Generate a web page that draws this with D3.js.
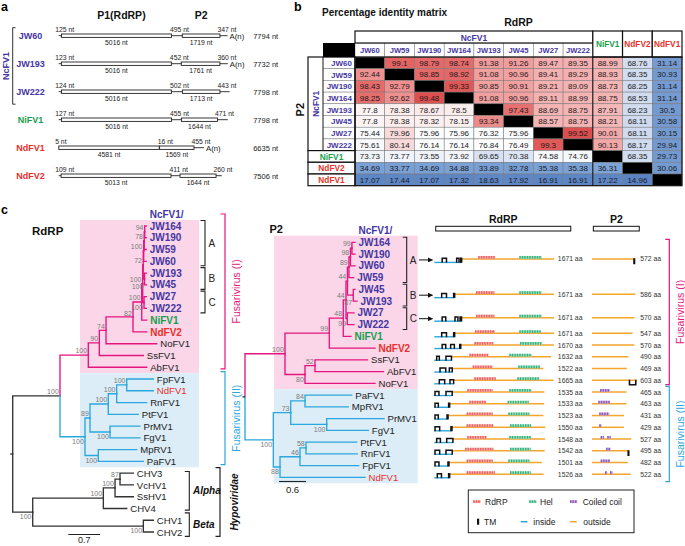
<!DOCTYPE html>
<html><head><meta charset="utf-8">
<script src="https://cdn.jsdelivr.net/npm/d3@7"></script>
<style>
body{margin:0;background:#fff;}
svg{font-family:"Liberation Sans",Arial,Helvetica,sans-serif;}
</style></head><body>
<svg id="fig" width="685" height="546"></svg>
<script>
// ================= DATA =================
const PURPLE="#4536a3", GREEN="#179f4c", RED="#e8302c", PINK="#e5157f", BLUE="#2aa7dc", ORANGE="#f5a52a";

// ---- panel a : genome organisation ----
const genomeNames = ["JW60","JW193","JW222","NiFV1","NdFV1","NdFV2"];
const utr5   = [125,123,124,127,5,109];
const orf1   = [5016,5016,5016,5016,4581,5013];
const igr    = [495,452,502,455,16,411];
const orf2   = [1719,1761,1713,1644,1569,1644];
const utr3   = [347,360,443,471,455,260];
const genomeTotal = [7794,7732,7798,7798,6635,7506];
const polyA  = [true,true,false,false,true,false];

// ---- panel b : percentage identity matrix (rows = P2, columns = RdRP) ----
const matrixNames = ["JW60","JW59","JW190","JW164","JW193","JW45","JW27","JW222","NiFV1","NdFV2","NdFV1"];
const identity = [
 [null,99.1,98.79,98.74,91.38,91.26,89.47,89.35,88.99,68.76,31.14],
 [92.44,null,98.85,98.92,91.08,90.96,89.41,89.29,88.93,68.35,30.93],
 [98.43,92.79,null,99.33,90.85,90.91,89.21,89.09,88.73,68.25,31.14],
 [98.25,92.62,99.48,null,91.08,90.96,89.11,88.99,88.75,68.53,31.14],
 [77.8,78.38,78.67,78.5,null,97.43,88.69,88.75,87.91,68.23,30.5],
 [77.8,78.38,78.32,78.15,93.34,null,88.57,88.75,88.21,68.11,30.58],
 [75.44,79.96,75.96,75.96,76.32,75.96,null,99.52,90.01,68.11,30.15],
 [75.61,80.14,76.14,76.14,76.84,76.49,99.3,null,90.13,68.17,29.94],
 [73.73,73.77,73.55,73.92,69.65,70.38,74.58,74.76,null,68.35,29.73],
 [34.69,33.77,34.69,34.88,33.89,32.78,35.38,35.38,36.31,null,30.06],
 [17.07,17.44,17.07,17.32,18.63,17.92,16.91,16.91,17.22,14.96,null]
];

// ---- panel c : phylogenies (Newick, support values as node labels) ----
const rdrpTree = `(
 (
  (
   (
    (
     (
      (
       (
        (
         (
          (
           (JW164:0.033,JW190:0.033)94:0.011,
           JW59:0.044
          )78:0.011,
          JW60:0.055
         )100:0.011,
         (JW193:0.044,JW45:0.044)100:0.029
        )72:0.011,
        (JW27:0.051,JW222:0.051)100:0.029
       )100:0.022,
       NiFV1:0.110
      )100:0.192,
      NdFV2:0.302
     )82:0.596,
     NoFV1:1.119
    )74:0.148,
    SsFV1:0.971
   )90:0.243,
   AbFV1:1.289
  )100:0.625,
  (
   (
    (
     (
      (FpFV1:0.587,NdFV1:0.587)100:0.221,
      RnFV1:0.662
     )100:0.185,
     PtFV1:0.662
    )100:0.404,
    (PrMV1:0.662,FgV1:0.662)100:0.442
   )89:0.110,
   (MpRV1:0.848,PaFV1:0.993)100:0.294
  )100:0.552
 )100:1.044,
 (
  (
   (
    (CHV3:0.294,VcHV1:0.294)87:0.110,
    SsHV1:0.404
   )100:0.258,
   CHV4:0.517
  )100:1.559,
  (CHV1:0.221,CHV2:0.221)100:2.442
 )100:0.442
);`;

const p2Tree = `(
 (
  (
   (
    (
     (
      (
       (
        (JW164:0.067,JW190:0.067)99:0.033,
        JW60:0.100
       )98:0.033,
       JW59:0.104
      )89:0.033,
      (JW45:0.038,JW193:0.082)87:0.129
     )44:0.033,
     (JW27:0.149,JW222:0.149)99:0.029
    )44:0.060,
    NiFV1:0.171
   )48:0.311,
   NdFV2:1.016
  )99:0.984,
  (
   (SsFV1:1.167,AbFV1:1.522)52:0.222,
   NoFV1:1.556
  )80:0.444
 )100:0.889,
 (
  (
   (PaFV1:1.038,MpRV1:0.962)84:0.318,
   (PrMV1:1.273,FgV1:0.924)100:0.800
  )73:0.387,
  (
   (
    (PtFV1:1.127,RnFV1:1.140)58:0.133,
    FpFV1:1.304
   )46:0.444,
   NdFV1:1.889
  )88:0.149
 )100:0.629
);`;

const fusI  = ["JW164","JW190","JW59","JW60","JW193","JW45","JW27","JW222","NiFV1","NdFV2","NoFV1","SsFV1","AbFV1"];
const fusII = ["FpFV1","NdFV1","RnFV1","PtFV1","PrMV1","FgV1","MpRV1","PaFV1"];
const rdrpGroups = {A:["JW164","JW60"],B:["JW193","JW45"],C:["JW27","JW222"]};
const p2Groups   = {A:["JW164","JW59"],B:["JW45","JW193"],C:["JW27","JW222"]};

// ---- panel c : domain architecture (aa) ----
const domainRows = ["A","B","C","NiFV1","NdFV2","SsFV1","AbFV1","NoFV1","PaFV1","MpRV1","PrMV1","FgV1","PtFV1","RnFV1","FpFV1","NdFV1"];
const rdrpLen = [1671,1671,1671,1671,1670,1632,1522,1665,1535,1533,1523,1550,1548,1542,1501,1526];
const p2Len   = [572,586,570,547,570,490,469,603,465,463,431,429,527,495,482,522];
const rdrpDomain = [[615,847],[582,838],[582,838],[568,847],[559,824],[489,754],[536,815],[559,857],[461,815],[489,722],[452,815],[452,824],[461,731],[429,824],[452,815],[452,847]];
const helDomain  = [[1187,1499],[1187,1499],[1187,1499],[1187,1485],[1196,1499],[1047,1359],[1173,1476],[1159,1466],[1047,1359],[1024,1317],[1034,1327],[1057,1350],[1047,1350],[1057,1345],[1034,1327],[1057,1345]];
const rdrpTM = [
 [[110,170],[312,345],[368,380]],
 [[103,170],[270,280]],
 [[110,160],[289,330],[360,380]],
 [[103,170],[270,280]],
 [[110,160],[228,280],[355,365]],
 [[33,70],[163,240]],
 [[80,160],[210,250]],
 [[70,145],[219,270]],
 [[10,65],[163,250]],
 [[10,56],[200,210]],
 [[10,56],[178,188]],
 [[10,75],[233,243]],
 [[33,85],[173,260]],
 [[10,75],[163,250]],
 [[10,65],[191,201]],
 [[42,100],[200,210]]
];
const p2TM = [[[566,572]],[],[],[],[],[],[],[[505,590]],[],[],[],[],[],[[488,495]],[],[]];
const coiledCoil = [[],[],[],[],[],[],[],[],[[108,243]],[[85,243]],[[98,233]],[[98,131]],[[117,162],[206,252]],[[189,252]],[[117,243]],[[175,206],[243,279]]];

// ================= HELPERS =================
const svg = d3.select("#fig");
const defs = svg.append("defs");
defs.append("marker").attr("id","arr").attr("viewBox","0 0 10 10").attr("refX",9).attr("refY",5)
  .attr("markerWidth",5).attr("markerHeight",5).attr("orient","auto")
  .append("path").attr("d","M0,0L10,5L0,10z").attr("fill","#111");

function nameColor(n){ if(/^JW/.test(n)) return PURPLE; if(n==="NiFV1") return GREEN; if(/^NdFV/.test(n)) return RED; return "#222"; }
function txt(g,x,y,s,o={}){
  const t=g.append("text").attr("x",x).attr("y",y).text(s)
    .attr("font-size",o.size||8).attr("fill",o.fill||"#222")
    .attr("font-weight",o.weight||"normal").attr("text-anchor",o.anchor||"start");
  if(o.style) t.attr("font-style",o.style);
  return t;
}
function vtxt(g,x,y,s,o={}){
  return g.append("text").attr("transform",`translate(${x},${y}) rotate(-90)`).text(s)
    .attr("font-size",o.size||10).attr("fill",o.fill||"#222").attr("font-weight",o.weight||"normal")
    .attr("font-style",o.style||"normal").attr("text-anchor","middle");
}
function bracket(g,x,y1,y2,color,tick=4.5,w=1.2){
  g.append("path").attr("d",`M${x-tick},${y1}H${x}V${y2}H${x-tick}`).attr("fill","none")
   .attr("stroke",color).attr("stroke-width",w);
}
function parseNewick(s){
  const tokens=s.replace(/\s+/g,"").split(/(;|\(|\)|,|:)/).filter(t=>t!=="");
  const anc=[]; let tree={};
  for(let i=0;i<tokens.length;i++){
    const t=tokens[i];
    if(t==="("){const sub={};tree.children=[sub];anc.push(tree);tree=sub;}
    else if(t===","){const sub={};anc[anc.length-1].children.push(sub);tree=sub;}
    else if(t===")"){tree=anc.pop();}
    else if(t===":"||t===";"){}
    else{const p=tokens[i-1]; if(p===":") tree.length=parseFloat(t); else tree.name=t;}
  }
  return tree;
}
function layoutTree(nw,x0,k,y0,step){
  const root=d3.hierarchy(parseNewick(nw));
  root.eachBefore(d=>{d.len=d.parent?d.parent.len+(d.data.length||0):0; d.x=x0+d.len*k;});
  root.leaves().forEach((l,i)=>l.y=y0+i*step);
  root.eachAfter(d=>{if(d.children) d.y=(d.children[0].y+d.children[d.children.length-1].y)/2;});
  return root;
}
function cladeColor(d){
  const ls=d.leaves().map(l=>l.data.name);
  if(ls.every(n=>fusI.includes(n))) return PINK;
  if(ls.every(n=>fusII.includes(n))) return BLUE;
  return "#333";
}
function drawTree(g,root){
  root.descendants().filter(d=>d.parent).forEach(d=>{
    g.append("path").attr("d",`M${d.parent.x},${d.parent.y}V${d.y}H${d.x}`)
     .attr("fill","none").attr("stroke",cladeColor(d)).attr("stroke-width",1.35).attr("stroke-linecap","square");
  });
  g.append("path").attr("d",`M${root.x-2.5},${root.y}H${root.x}`).attr("stroke","#333").attr("stroke-width",1.35);
  root.leaves().forEach(l=>{
    const n=l.data.name;
    const bold=/^JW/.test(n)||n==="NiFV1"||n==="NdFV2";
    txt(g,l.x+3.5,l.y+3.6,n,{size:bold?10:9.6,fill:nameColor(n),weight:bold?"bold":"normal"});
  });
  const labels=root.descendants().filter(d=>d.children&&d.parent&&d.data.name).map(d=>{
    const last=d.parent.children[d.parent.children.length-1]===d;
    const w=d.data.name.length*3.9;
    return {text:d.data.name,x2:d.x-1.2,x1:d.x-1.2-w,y:last?d.y+7.2:d.y-1.8};
  }).sort((a,b)=>a.y-b.y);
  const placed=[];
  labels.forEach(l=>{
    let moved=true,guard=0;
    while(moved&&guard++<20){moved=false;
      for(const p of placed){ if(l.x1<p.x2&&p.x1<l.x2&&Math.abs(l.y-p.y)<6.6){l.y=p.y+6.6;moved=true;} }
    }
    placed.push(l);
    txt(g,l.x2,l.y,l.text,{size:7,fill:"#7a7a7a",anchor:"end"});
  });
}
const leafOf=(root,name)=>root.leaves().find(l=>l.data.name===name);

// ================= PANEL A =================
const gA=svg.append("g");
txt(gA,1,11,"a",{size:12.5,weight:"bold",fill:"#000"});
const ntX=d3.scaleLinear().domain([0,8000]).range([58.7,234.1]);
const aRowY=d3.scalePoint().domain(genomeNames).range([35.7,175.7]);
txt(gA,ntX(utr5[0]+orf1[0]/2)+5,19,"P1(RdRP)",{size:10.5,weight:"bold",anchor:"middle",fill:"#111"});
txt(gA,ntX(utr5[0]+orf1[0]+igr[0]+orf2[0]/2),19,"P2",{size:10.5,weight:"bold",anchor:"middle",fill:"#111"});
genomeNames.forEach((n,i)=>{
  const y=aRowY(n);
  const s1=utr5[i],e1=s1+orf1[i],s2=e1+igr[i],e2=s2+orf2[i],end=e2+utr3[i];
  gA.append("line").attr("x1",ntX(0)).attr("x2",ntX(end)).attr("y1",y).attr("y2",y).attr("stroke","#222").attr("stroke-width",0.9);
  [[s1,e1],[s2,e2]].forEach(([a,b])=>gA.append("rect").attr("x",ntX(a)).attr("y",y-1.7).attr("width",ntX(b)-ntX(a)).attr("height",3.4)
     .attr("fill","#fff").attr("stroke","#222").attr("stroke-width",0.9));
  txt(gA,ntX(0)-3.5,y-4,utr5[i]+" nt",{size:6.8});
  txt(gA,ntX(e1)-1.5,y-4,igr[i]+" nt",{size:6.8});
  txt(gA,ntX(e2)-2.5,y-4,utr3[i]+" nt",{size:6.8});
  txt(gA,(ntX(s1)+ntX(e1))/2,y+9.3,orf1[i]+" nt",{size:6.8,anchor:"middle"});
  txt(gA,(ntX(s2)+ntX(e2))/2,y+9.3,orf2[i]+" nt",{size:6.8,anchor:"middle"});
  if(polyA[i]) txt(gA,ntX(end)+2,y+3,"A(n)",{size:7.8});
  txt(gA,ntX(8870),y+3,genomeTotal[i]+" nt",{size:7.5});
  txt(gA,30.5,y+3.3,n,{size:9,weight:"bold",fill:nameColor(n),anchor:"middle"});
});
{
  const t=aRowY("JW60")-8, b=aRowY("JW222")+12.5;
  gA.append("path").attr("d",`M15.5,${t}H12.7V${b}H15.5`).attr("fill","none").attr("stroke","#333").attr("stroke-width",1);
  vtxt(gA,8.5,(t+b)/2,"NcFV1",{size:9,weight:"bold",fill:PURPLE});
}

// ================= PANEL B =================
const gB=svg.append("g");
txt(gB,294,11,"b",{size:12.5,weight:"bold",fill:"#000"});
txt(gB,322,16,"Percentage identity matrix",{size:10,weight:"bold",fill:"#111"});
const colX=d3.scaleBand().domain(matrixNames).range([355,682]);
const rowY=d3.scaleBand().domain(matrixNames).range([57,185.7]);
const bw=colX.bandwidth(), bh=rowY.bandwidth();
txt(gB,(colX.range()[0]+colX.range()[1])/2,26,"RdRP",{size:10.5,weight:"bold",anchor:"middle",fill:"#111"});
const idColor=d3.scaleLinear()
  .domain([15,35,68,74,77,80,89,93,99,99.6])
  .range(["#5a83c3","#7ba1d5","#cedaee","#f2f5fa","#ffffff","#f8dada","#f5b3b3","#ee8c8c","#e56868","#dc4a4a"]).clamp(true);
const thin={stroke:"#777",w:0.5};
matrixNames.forEach((r,i)=>matrixNames.forEach((c,j)=>{
  const v=identity[i][j];
  gB.append("rect").attr("x",colX(c)).attr("y",rowY(r)).attr("width",bw).attr("height",bh)
    .attr("fill",v===null?"#000":idColor(v)).attr("stroke",thin.stroke).attr("stroke-width",thin.w);
  if(v!==null) txt(gB,colX(c)+bw/2,rowY(r)+bh/2+2.9,String(v),{size:8,anchor:"middle",fill:"#1a1a1a"});
}));
const ncCols=matrixNames.filter(n=>/^JW/.test(n));
const lastNc=ncCols[ncCols.length-1];
const hdrTop=31, hdrMid=43;
ncCols.forEach(c=>{
  gB.append("rect").attr("x",colX(c)).attr("y",hdrMid).attr("width",bw).attr("height",rowY.range()[0]-hdrMid)
    .attr("fill","#fff").attr("stroke",thin.stroke).attr("stroke-width",thin.w);
  txt(gB,colX(c)+bw/2,52.8,c,{size:7.6,weight:"bold",fill:PURPLE,anchor:"middle"});
});
gB.append("rect").attr("x",colX(ncCols[0])).attr("y",hdrTop).attr("width",colX(lastNc)+bw-colX(ncCols[0])).attr("height",hdrMid-hdrTop)
  .attr("fill","#fff").attr("stroke","#111").attr("stroke-width",1.2);
txt(gB,(colX(ncCols[0])+colX(lastNc)+bw)/2,40.5,"NcFV1",{size:8.5,weight:"bold",fill:PURPLE,anchor:"middle"});
matrixNames.filter(n=>!/^JW/.test(n)).forEach(c=>{
  gB.append("rect").attr("x",colX(c)).attr("y",hdrTop).attr("width",bw).attr("height",rowY.range()[0]-hdrTop)
    .attr("fill","#fff").attr("stroke","#111").attr("stroke-width",1.2);
  txt(gB,colX(c)+bw/2,47,c,{size:8.3,weight:"bold",fill:nameColor(c),anchor:"middle"});
});
const rlX0=308, rlX1=323;
ncCols.forEach(r=>{
  gB.append("rect").attr("x",rlX1).attr("y",rowY(r)).attr("width",colX.range()[0]-rlX1).attr("height",bh)
    .attr("fill","#fff").attr("stroke",thin.stroke).attr("stroke-width",thin.w);
  txt(gB,colX.range()[0]-3,rowY(r)+bh/2+3,r,{size:8,weight:"bold",fill:PURPLE,anchor:"end"});
});
gB.append("rect").attr("x",rlX0).attr("y",rowY(ncCols[0])).attr("width",colX.range()[0]-rlX0).attr("height",rowY(lastNc)+bh-rowY(ncCols[0]))
  .attr("fill","none").attr("stroke","#111").attr("stroke-width",1.2);
gB.append("line").attr("x1",rlX1).attr("x2",rlX1).attr("y1",rowY(ncCols[0])).attr("y2",rowY(lastNc)+bh).attr("stroke","#111").attr("stroke-width",0.8);
vtxt(gB,318.8,(rowY(ncCols[0])+rowY(lastNc)+bh)/2,"NcFV1",{size:8.3,weight:"bold",fill:PURPLE});
matrixNames.filter(n=>!/^JW/.test(n)).forEach(r=>{
  gB.append("rect").attr("x",rlX0).attr("y",rowY(r)).attr("width",colX.range()[0]-rlX0).attr("height",bh)
    .attr("fill","#fff").attr("stroke","#111").attr("stroke-width",1.2);
  txt(gB,(rlX0+colX.range()[0])/2,rowY(r)+bh/2+3.1,r,{size:8.3,weight:"bold",fill:nameColor(r),anchor:"middle"});
});
gB.append("rect").attr("x",rlX1).attr("y",hdrMid).attr("width",colX.range()[0]-rlX1).attr("height",rowY.range()[0]-hdrMid).attr("fill","#000");
gB.append("rect").attr("x",colX.range()[0]).attr("y",rowY.range()[0]).attr("width",colX.range()[1]-colX.range()[0]).attr("height",rowY.range()[1]-rowY.range()[0])
  .attr("fill","none").attr("stroke","#111").attr("stroke-width",1.2);
gB.append("line").attr("x1",colX("NiFV1")).attr("x2",colX("NiFV1")).attr("y1",rowY.range()[0]).attr("y2",rowY.range()[1]).attr("stroke","#111").attr("stroke-width",1);
vtxt(gB,304,(rowY(ncCols[0])+rowY("NdFV2"))/2,"P2",{size:11,weight:"bold",fill:"#111"});

// ================= PANEL C =================
const gC=svg.append("g");
txt(gC,1,214,"c",{size:12.5,weight:"bold",fill:"#000"});

// ---- RdRP tree ----
const rT=layoutTree(rdrpTree,12.7,45.3,226,11.77);
const rL=n=>leafOf(rT,n);
txt(gC,32,235,"RdRP",{size:11.5,weight:"bold",fill:"#111"});
{
  const top=rL("JW164").y-6, mid=(rL("AbFV1").y+rL("FpFV1").y)/2, bot=(rL("PaFV1").y+rL("CHV3").y)/2;
  gC.append("rect").attr("x",80).attr("y",top).attr("width",119).attr("height",mid-top).attr("fill","#fad6e8");
  gC.append("rect").attr("x",80).attr("y",mid).attr("width",119).attr("height",bot-mid).attr("fill","#dcedf8");
}
const gRT=gC.append("g"); drawTree(gRT,rT);
txt(gC,rL("JW164").x+3.5,rL("JW164").y-11.77+3.6,"NcFV1/",{size:10,weight:"bold",fill:PURPLE});
Object.entries(rdrpGroups).forEach(([k,[a,b]])=>{
  const y1=rL(a).y-5.5,y2=rL(b).y+4.5;
  bracket(gC,205,y1,y2,"#222",4.5,1.1);
  txt(gC,208.5,(y1+y2)/2+3.6,k,{size:10,fill:"#222"});
});
{
  let y1=rL("JW164").y-12, y2=rL("AbFV1").y+1.6;
  bracket(gC,225,y1,y2,PINK,4.5,1.2); vtxt(gC,240,(y1+y2)/2,"Fusarivirus (I)",{size:10.5,fill:PINK});
  y1=rL("FpFV1").y-7.3; y2=rL("PaFV1").y+3.3;
  bracket(gC,225,y1,y2,BLUE,4.5,1.2); vtxt(gC,240,(y1+y2)/2,"Fusarivirus (II)",{size:10.5,fill:BLUE});
  y1=rL("CHV3").y-5.6; y2=rL("CHV2").y+4.4;
  bracket(gC,220,y1,y2,"#222",4.5,1.2); vtxt(gC,237.5,(y1+y2)/2,"Hypoviridae",{size:10,weight:"bold",style:"italic",fill:"#111"});
  y1=rL("CHV3").y-1.6; y2=rL("CHV4").y+1.6;
  bracket(gC,189.3,y1,y2,"#222",4.5,1.1); txt(gC,193,(y1+y2)/2+3.5,"Alpha",{size:10,weight:"bold",style:"italic",fill:"#111"});
  y1=rL("CHV1").y-7.4; y2=rL("CHV2").y+4.4;
  bracket(gC,189.3,y1,y2,"#222",4.5,1.1); txt(gC,193,(y1+y2)/2+3.5,"Beta",{size:10,weight:"bold",style:"italic",fill:"#111"});
}
{ // scale bar 0.7
  const x0=rT.x+55.6, y=rL("CHV2").y+2.5;
  gC.append("line").attr("x1",x0).attr("x2",x0+0.7*45.3).attr("y1",y).attr("y2",y).attr("stroke","#222").attr("stroke-width",1.1);
  txt(gC,x0+0.7*45.3/2,y+8.8,"0.7",{size:9,anchor:"middle"});
}

// ---- P2 tree ----
const pT=layoutTree(p2Tree,245,45,242.3,11.75);
const pL=n=>leafOf(pT,n);
txt(gC,269.5,233,"P2",{size:11,weight:"bold",fill:"#111"});
{
  const top=pL("JW164").y-6.6, mid=(pL("NoFV1").y+pL("PaFV1").y)/2, bot=pL("NdFV1").y+6;
  gC.append("rect").attr("x",274).attr("y",top).attr("width",143.7).attr("height",mid-top).attr("fill","#fad6e8");
  gC.append("rect").attr("x",274).attr("y",mid).attr("width",143.7).attr("height",bot-mid).attr("fill","#dcedf8");
}
const gPT=gC.append("g"); drawTree(gPT,pT);
txt(gC,pL("JW164").x+3.5,pL("JW164").y-11.75+3.6,"NcFV1/",{size:10,weight:"bold",fill:PURPLE});
const p2Mid={};
Object.entries(p2Groups).forEach(([k,[a,b]])=>{
  const y1=pL(a).y-5, y2=pL(b).y+5, m=(y1+y2)/2; p2Mid[k]=m;
  bracket(gC,406.7,y1,y2,"#222",4,1.1);
  txt(gC,409.8,m+3.6,k,{size:10,fill:"#222"});
  gC.append("line").attr("x1",419).attr("x2",432.5).attr("y1",m).attr("y2",m).attr("stroke","#111").attr("stroke-width",1).attr("marker-end","url(#arr)");
});
{ // scale bar 0.6
  const x0=pT.x+34, y=pL("NdFV1").y+4.2;
  gC.append("line").attr("x1",x0).attr("x2",x0+0.6*45).attr("y1",y).attr("y2",y).attr("stroke","#222").attr("stroke-width",1.1);
  txt(gC,x0+0.6*45/2,y+11,"0.6",{size:9.5,anchor:"middle"});
}

// ---- domain architecture ----
const gD=gC.append("g");
const rdrpX=d3.scaleLinear().domain([0,1700]).range([434.3,434.3+1700*0.07163]);
const p2X=d3.scaleLinear().domain([0,600]).range([592,592+600*0.0742]);
txt(gD,(rdrpX(20)+rdrpX(1905))/2,223,"RdRP",{size:10.5,weight:"bold",anchor:"middle",fill:"#111"});
txt(gD,(p2X(18)+p2X(637))/2,223,"P2",{size:10.5,weight:"bold",anchor:"middle",fill:"#111"});
gD.append("rect").attr("x",rdrpX(20)).attr("y",226.3).attr("width",rdrpX(1905)-rdrpX(20)).attr("height",4.7).attr("fill","#fff").attr("stroke","#111").attr("stroke-width",1);
gD.append("rect").attr("x",p2X(18)).attr("y",226.3).attr("width",p2X(637)-p2X(18)).attr("height",4.7).attr("fill","#fff").attr("stroke","#111").attr("stroke-width",1);
const rowYd=domainRows.map(k=>p2Mid[k]!==undefined? p2Mid[k]-1 : pL(k).y-3);
function seg(g,x1,x2,y,color,w,dash){
  const l=g.append("line").attr("x1",x1).attr("x2",x2).attr("y1",y).attr("y2",y).attr("stroke",color).attr("stroke-width",w);
  if(dash) l.attr("stroke-dasharray",dash);
}
function domainBar(g,x1,x2,y,light,dark){
  seg(g,x1,x2,y,light,2.8);
  seg(g,x1,x2,y,dark,2.8,"1.4,1.1");
}
const DOM={rdrp:["#f6b0b0","#ea6464"],hel:["#a6e0c6","#36b27c"],cc:["#c8aee2","#8c58bd"]};
domainRows.forEach((k,i)=>{
  const y=rowYd[i], lo=y+3.5;
  const tms=rdrpTM[i], lastEnd=tms.length?tms[tms.length-1][1]:0;
  seg(gD,rdrpX(0),rdrpX(lastEnd),lo,BLUE,1.4);
  seg(gD,rdrpX(lastEnd),rdrpX(rdrpLen[i]),y,ORANGE,1.5);
  tms.forEach(([a,b])=>{
    const x1=rdrpX(a),x2=Math.max(rdrpX(b),x1+1);
    gD.append("path").attr("d",`M${x1},${lo+0.4}V${y-0.6}H${x2}V${lo+0.4}`).attr("fill","none").attr("stroke","#111").attr("stroke-width",1.5);
  });
  domainBar(gD,rdrpX(rdrpDomain[i][0]),rdrpX(rdrpDomain[i][1]),y-1.6,...DOM.rdrp);
  domainBar(gD,rdrpX(helDomain[i][0]),rdrpX(helDomain[i][1]),y-1.6,...DOM.hel);
  txt(gD,rdrpX(1725),y+2.5,rdrpLen[i]+" aa",{size:6.8,fill:"#333"});
  seg(gD,p2X(0),p2X(p2Len[i]),y,ORANGE,1.5);
  p2TM[i].forEach(([a,b])=>{
    const x1=p2X(a),x2=Math.max(p2X(b),x1+0.5);
    gD.append("path").attr("d",`M${x1},${y-0.6}V${y+4.5}H${x2}V${y-0.6}`).attr("fill","none").attr("stroke","#111").attr("stroke-width",1.6);
  });
  coiledCoil[i].forEach(([a,b])=>domainBar(gD,p2X(a),p2X(b),y-1.6,...DOM.cc));
  txt(gD,p2X(650),y+2.5,p2Len[i]+" aa",{size:6.8,fill:"#333"});
});
{
  let y1=pL("JW164").y-3, y2=pL("NoFV1").y+1.3;
  bracket(gD,669.3,y1,y2,PINK,4,1.2); vtxt(gD,684,(y1+y2)/2,"Fusarivirus (I)",{size:10.5,fill:PINK});
  y1=pL("PaFV1").y-8.7; y2=pL("NdFV1").y+4.4;
  bracket(gD,669.3,y1,y2,BLUE,4,1.2); vtxt(gD,684,(y1+y2)/2,"Fusarivirus (II)",{size:10.5,fill:BLUE});
}
{
  const lg=gD.append("g");
  lg.append("rect").attr("x",468.3).attr("y",490).attr("width",165.7).attr("height",42.7).attr("fill","#fff").attr("stroke","#222").attr("stroke-width",1);
  const r1=501.7, r2=521.7;
  domainBar(lg,473.3,480.7,r1,...DOM.rdrp); txt(lg,485,r1+3,"RdRP",{size:8.5});
  domainBar(lg,529.3,536.7,r1,...DOM.hel); txt(lg,540,r1+3,"Hel",{size:8.5});
  domainBar(lg,570,577.3,r1,...DOM.cc); txt(lg,582.7,r1+3,"Coiled coil",{size:8.5});
  lg.append("rect").attr("x",477).attr("y",r2-3).attr("width",2.2).attr("height",6).attr("fill","#111");
  txt(lg,484,r2+3,"TM",{size:8.5});
  seg(lg,520.7,527.5,r2,BLUE,1.5); txt(lg,533.3,r2+3,"inside",{size:8.5});
  seg(lg,570,576.7,r2,ORANGE,1.5); txt(lg,583.3,r2+3,"outside",{size:8.5});
}
</script>
</body></html>
